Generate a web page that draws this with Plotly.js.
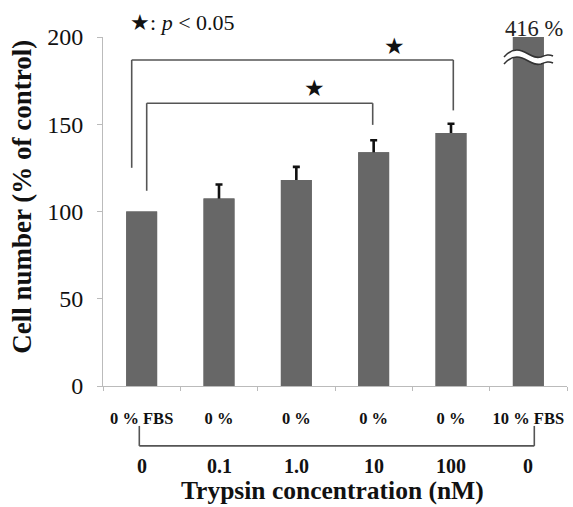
<!DOCTYPE html>
<html><head><meta charset="utf-8">
<script src="https://cdn.plot.ly/plotly-3.0.1.min.js"></script>
<style>html,body{margin:0;padding:0;background:#fff;}#chart{width:573px;height:507px;}</style>
</head><body><div id="chart"></div>
<script>
// Data
var positions = [0, 1, 2, 3, 4, 5];
var serumLabels = ["0 % FBS", "0 %", "0 %", "0 %", "0 %", "10 % FBS"];
var trypsinLabels = ["0", "0.1", "1.0", "10", "100", "0"];
var cellNumber = [100, 107.5, 118, 134, 145, 416];
var errorSD = [NaN, 8, 7.6, 6.8, 5.3, NaN];
var boundaries = [-0.5, 0.5, 1.5, 2.5, 3.5, 4.5, 5.5];

var W = 573, H = 507;
var L = 103, R = 6, T = 37, B = 120.5;
var pw = W - L - R, ph = H - T - B;
function px(x){ return (x - L) / pw; }
function py(y){ return (H - B - y) / ph; }

var serif = "Liberation Serif, Times New Roman, serif";
var barColor = "#676767";

// bars with error bars, then the same bars on top to hide the lower half of the bars
var traceErr = {
  type: "bar", x: positions, y: cellNumber, width: 0.4,
  marker: {color: barColor, line: {width: 0}},
  error_y: {type: "data", array: errorSD, color: "#111", thickness: 2.6, width: 3.5},
  cliponaxis: true, hoverinfo: "skip"
};
var traceBar = {
  type: "bar", x: positions, y: cellNumber, width: 0.4,
  marker: {color: barColor, line: {width: 0}},
  cliponaxis: true, hoverinfo: "skip"
};

var annotations = [];
trypsinLabels.forEach(function(t, i){
  annotations.push({xref: "x", yref: "paper", x: positions[i], y: py(466.5), text: "<b>" + t + "</b>",
    showarrow: false, xanchor: "center", yanchor: "middle", font: {family: serif, size: 20, color: "#111"}});
});
annotations.push({xref: "paper", yref: "paper", x: px(332), y: py(491.5), text: "<b>Trypsin concentration (nM)</b>",
  showarrow: false, xanchor: "center", yanchor: "middle", font: {family: serif, size: 25.5, color: "#111"}});
annotations.push({xref: "paper", yref: "paper", x: px(22), y: py(197), text: "<b>Cell number (% of control)</b>",
  textangle: -90, showarrow: false, xanchor: "center", yanchor: "middle", font: {family: serif, size: 27, color: "#111"}});
annotations.push({xref: "paper", yref: "paper", x: px(128), y: py(22), text: "★: <i>p</i> < 0.05",
  showarrow: false, xanchor: "left", yanchor: "middle", font: {family: serif, size: 22, color: "#111"}});
annotations.push({xref: "paper", yref: "paper", x: px(394), y: py(46), text: "★",
  showarrow: false, xanchor: "center", yanchor: "middle", font: {family: "DejaVu Sans", size: 23, color: "#111"}});
annotations.push({xref: "paper", yref: "paper", x: px(314.5), y: py(88), text: "★",
  showarrow: false, xanchor: "center", yanchor: "middle", font: {family: "DejaVu Sans", size: 23, color: "#111"}});
annotations.push({xref: "paper", yref: "paper", x: px(534), y: py(28), text: "416 %",
  showarrow: false, xanchor: "center", yanchor: "middle", font: {family: serif, size: 22.5, color: "#222"}});

function seg(x0, y0, x1, y1){
  return {type: "line", xref: "paper", yref: "paper", x0: px(x0), y0: py(y0), x1: px(x1), y1: py(y1),
          line: {color: "#555", width: 1.6}};
}
var shapes = [
  seg(131.7, 168, 131.7, 60), seg(131.7, 60, 453.3, 60), seg(453.3, 60, 453.3, 110.5),
  seg(146.7, 191, 146.7, 103.3), seg(146.7, 103.3, 372.7, 103.3), seg(372.7, 103.3, 372.7, 125),
  seg(139.3, 426.5, 139.3, 446.5), seg(139.3, 446.5, 534.3, 446.5), seg(534.3, 446.5, 534.3, 426.5)
];

function wave(dy){
  var p = [[504,57],[510,50],[516,49],[522,51],[530,54],[534,59],[541,57],[546,55],[549,54],[553,56]];
  return p.map(function(q){ return [q[0], q[1] + dy]; });
}
function pt(q){ return px(q[0]) + "," + py(q[1]); }
function toPath(pts){
  var s = "M" + pt(pts[0]);
  for (var i = 1; i + 2 < pts.length; i += 3) {
    s += " C" + pt(pts[i]) + " " + pt(pts[i+1]) + " " + pt(pts[i+2]);
  }
  return s;
}
var waveTop = wave(0), waveBot = wave(7);
var rb = waveBot.slice().reverse();
var band = toPath(waveTop) + " L" + pt(rb[0]);
for (var k = 1; k + 2 < rb.length; k += 3) {
  band += " C" + pt(rb[k]) + " " + pt(rb[k+1]) + " " + pt(rb[k+2]);
}
band += " Z";
shapes.push({type: "path", xref: "paper", yref: "paper", path: band, fillcolor: "#fff", line: {width: 0}});
shapes.push({type: "path", xref: "paper", yref: "paper", path: toPath(waveTop), line: {color: "#333", width: 1.5}});
shapes.push({type: "path", xref: "paper", yref: "paper", path: toPath(waveBot), line: {color: "#333", width: 1.5}});

var layout = {
  width: W, height: H,
  margin: {l: L, r: R, t: T, b: B, pad: 0},
  paper_bgcolor: "#fff", plot_bgcolor: "#fff",
  showlegend: false,
  barmode: "overlay",
  xaxis: {
    range: [-0.5, 5.5], tickmode: "array", tickvals: positions, ticktext: serumLabels.map(function(s){return "<b>" + s + "</b>";}),
    ticks: "", showline: true, linecolor: "#bbb", linewidth: 1, showgrid: false, zeroline: false,
    tickfont: {family: serif, size: 16.5, color: "#111"}, ticklabelstandoff: 17,
    minor: {tickmode: "array", tickvals: boundaries, ticks: "outside", ticklen: 4, tickcolor: "#bbb", showgrid: false},
    fixedrange: true
  },
  yaxis: {
    range: [0, 200], tickmode: "array", tickvals: [0, 50, 100, 150, 200],
    ticks: "outside", ticklen: 5, tickcolor: "#bbb", showline: true, linecolor: "#bbb", linewidth: 1,
    showgrid: false, zeroline: false, ticklabelstandoff: 9,
    tickfont: {family: serif, size: 24, color: "#111"}, fixedrange: true
  },
  annotations: annotations,
  shapes: shapes
};

Plotly.newPlot("chart", [traceErr, traceBar], layout, {displayModeBar: false, staticPlot: true});
</script>
</body></html>
